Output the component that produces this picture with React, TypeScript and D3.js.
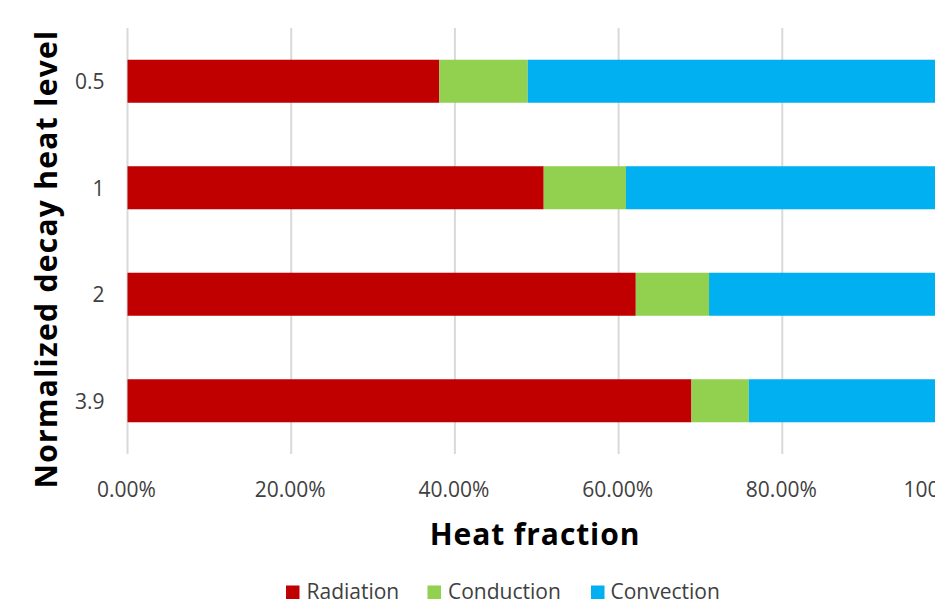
import React from "react";
import * as d3 from "d3";

const levels = ["0.5", "1", "2", "3.9"];
const radiation = [0.381, 0.5085, 0.621, 0.689];
const conduction = [0.108, 0.1005, 0.0895, 0.07];
const convection = [0.511, 0.391, 0.2895, 0.241];
const seriesNames = ["Radiation", "Conduction", "Convection"];
const seriesColors = ["#C00000", "#92D050", "#00B0F0"];
const xTicks = [0, 0.2, 0.4, 0.6, 0.8, 1.0];

const W = 935;
const H = 605;
const FONT = "'Open Sans', 'Noto Sans', sans-serif";

export default function App() {
  const rows = levels.map((lv, i) => ({
    level: lv,
    Radiation: radiation[i],
    Conduction: conduction[i],
    Convection: convection[i],
  }));
  const stacked = d3.stack<any>().keys(seriesNames)(rows);

  const x = d3.scaleLinear().domain([0, 1]).range([127.5, 946]);
  const y = d3
    .scaleBand<string>()
    .domain(levels)
    .range([28, 454])
    .paddingInner(0.596)
    .paddingOuter(0.298);
  const fmt = d3.format(".2%");

  const legendItems = [
    { name: "Radiation", sq: 286, tx: 306.5 },
    { name: "Conduction", sq: 427.5, tx: 448 },
    { name: "Convection", sq: 591, tx: 610.5 },
  ];

  return (
    <svg
      width={W}
      height={H}
      style={{ position: "absolute", left: 0, top: 0, background: "#fff" }}
      fontFamily={FONT}
    >
      <rect width={W} height={H} fill="#fff" />
      {/* vertical gridlines */}
      {xTicks.map((t) => (
        <line
          key={t}
          x1={x(t)}
          x2={x(t)}
          y1={28}
          y2={454}
          stroke="#d9d9d9"
          strokeWidth={2}
        />
      ))}
      {/* stacked bars */}
      {stacked.map((s, si) => (
        <g key={s.key} fill={seriesColors[si]}>
          {s.map((d, i) => (
            <rect
              key={i}
              x={x(d[0])}
              width={x(d[1]) - x(d[0])}
              y={y(levels[i])}
              height={y.bandwidth()}
            />
          ))}
        </g>
      ))}
      {/* x tick labels */}
      {xTicks.map((t) => (
        <text
          key={t}
          x={x(t) - 1}
          y={497}
          textAnchor="middle"
          fontSize={21}
          fill="#404040"
        >
          {fmt(t)}
        </text>
      ))}
      {/* y tick labels */}
      {levels.map((lv) => (
        <text
          key={lv}
          x={104.5}
          y={(y(lv) as number) + y.bandwidth() / 2 + 8}
          textAnchor="end"
          fontSize={21}
          fill="#404040"
        >
          {lv}
        </text>
      ))}
      {/* axis titles */}
      <text
        x={535}
        y={545}
        textAnchor="middle"
        fontSize={30}
        fontWeight="bold"
        letterSpacing={0.9}
        fill="#000"
      >
        Heat fraction
      </text>
      <text
        transform={`translate(57, 259) rotate(-90)`}
        textAnchor="middle"
        fontSize={30}
        fontWeight="bold"
        letterSpacing={1.3}
        fill="#000"
      >
        Normalized decay heat level
      </text>
      {/* legend */}
      {legendItems.map((it, i) => (
        <g key={it.name}>
          <rect x={it.sq} y={585.5} width={13.5} height={13.5} fill={seriesColors[i]} />
          <text x={it.tx} y={599} fontSize={21} fill="#404040">
            {it.name}
          </text>
        </g>
      ))}
    </svg>
  );
}
